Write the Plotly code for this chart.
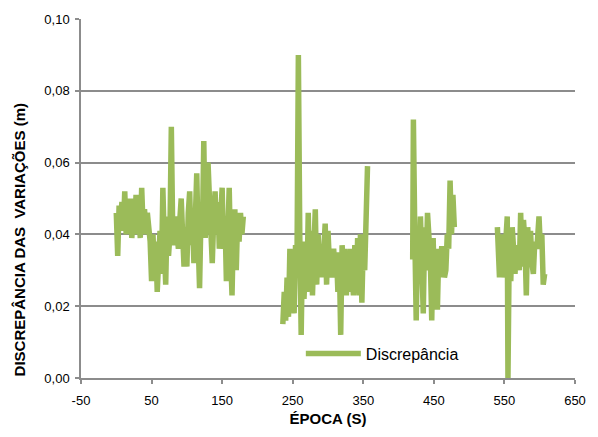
import plotly.graph_objects as go

# Segment 1
x1 = [0, 2, 4, 6, 8, 10, 12, 14, 16, 18, 20, 22, 24, 26, 28, 30, 32, 34, 36, 38, 40, 42, 44, 46, 48,
      50, 52, 54, 56, 58, 60, 62, 64, 66, 68, 70, 72, 74, 76, 78, 80, 82, 84, 86, 88, 90, 92, 94, 96, 98,
      100, 102, 104, 106, 108, 110, 112, 114, 116, 118, 120, 122, 124, 126, 128, 130, 132, 134, 136, 138,
      140, 142, 144, 146, 148, 150, 152, 154, 156, 158, 160, 162, 164, 166, 168, 170, 172, 174, 176, 178, 180]
y1 = [0.046, 0.034, 0.048, 0.044, 0.049, 0.041, 0.052, 0.040, 0.047, 0.042, 0.050, 0.039, 0.046, 0.040,
      0.051, 0.041, 0.045, 0.039, 0.053, 0.042, 0.047, 0.040, 0.046, 0.043, 0.038,
      0.027, 0.040, 0.030, 0.038, 0.024, 0.035, 0.041, 0.029, 0.053, 0.038, 0.026, 0.045, 0.034, 0.040,
      0.070, 0.040, 0.037, 0.045, 0.038, 0.036, 0.044, 0.050, 0.040, 0.031, 0.042,
      0.031, 0.046, 0.052, 0.037, 0.044, 0.032, 0.045, 0.057, 0.038, 0.025, 0.045, 0.040, 0.066, 0.039,
      0.047, 0.060, 0.050, 0.038, 0.032, 0.044,
      0.052, 0.040, 0.049, 0.036, 0.043, 0.053, 0.036, 0.045, 0.027, 0.041, 0.053, 0.034, 0.023, 0.042,
      0.047, 0.030, 0.045, 0.038, 0.046, 0.040, 0.045]

# Segment 2
x2 = [236, 238, 240, 242, 244, 246, 248, 250, 252, 254, 256, 258, 260, 262, 264, 266, 268, 270, 272,
      274, 276, 278, 280, 282, 284, 286, 288, 290, 292, 294, 296, 298, 300, 302, 304, 306, 308, 310,
      312, 314, 316, 318, 320, 322, 324, 326, 328, 330, 332, 334, 336, 338, 340, 342, 344, 346, 348,
      350, 352, 356]
y2 = [0.015, 0.024, 0.016, 0.028, 0.017, 0.036, 0.021, 0.033, 0.018, 0.037, 0.030, 0.090, 0.040, 0.012,
      0.038, 0.022, 0.033, 0.024, 0.046, 0.027, 0.041, 0.023, 0.036, 0.047, 0.026, 0.040, 0.031, 0.036,
      0.028, 0.035, 0.043, 0.026, 0.041, 0.032, 0.035, 0.028, 0.036, 0.030, 0.035, 0.024, 0.033, 0.012,
      0.037, 0.030, 0.036, 0.023, 0.035, 0.024, 0.036, 0.030, 0.023, 0.037, 0.024, 0.039, 0.023, 0.040,
      0.021, 0.038, 0.030, 0.059]

# Segment 3
x3 = [420, 421, 423, 425, 427, 429, 431, 433, 435, 437, 439, 441, 443, 445, 447, 449, 451, 453, 455,
      457, 459, 461, 463, 465, 467, 469, 471, 473, 475, 477, 479]
y3 = [0.033, 0.072, 0.040, 0.016, 0.038, 0.030, 0.045, 0.025, 0.018, 0.042, 0.030, 0.046, 0.040, 0.033,
      0.016, 0.039, 0.023, 0.035, 0.019, 0.036, 0.028, 0.036, 0.036, 0.028, 0.030, 0.040, 0.036, 0.055,
      0.040, 0.051, 0.042]

# Segment 4
x4 = [540, 541, 543, 546, 548, 551, 554, 555, 557, 559, 561, 563, 565, 567, 569, 571, 573, 575, 577,
      579, 581, 583, 585, 587, 589, 591, 593, 596, 599, 601, 603, 605, 607]
y4 = [0.042, 0.033, 0.028, 0.040, 0.028, 0.035, 0.045, 0.000, 0.040, 0.027, 0.042, 0.036, 0.029, 0.037,
      0.033, 0.030, 0.046, 0.031, 0.044, 0.038, 0.023, 0.042, 0.033, 0.041, 0.032, 0.029, 0.038, 0.036,
      0.045, 0.036, 0.040, 0.026, 0.029]

x_ticks = [-50, 50, 150, 250, 350, 450, 550, 650]
x_ticklabels = ["-50", "50", "150", "250", "350", "450", "550", "650"]
y_ticks = [0, 0.02, 0.04, 0.06, 0.08, 0.10]
y_ticklabels = ["0,00", "0,02", "0,04", "0,06", "0,08", "0,10"]

xs, ys = [], []
for sx, sy in [(x1, y1), (x2, y2), (x3, y3), (x4, y4)]:
    if xs:
        xs.append(None)
        ys.append(None)
    xs.extend(sx)
    ys.extend(sy)

GREEN = "#9BBB59"
GRID = "#8C8C8C"
FONT = "Liberation Sans"

fig = go.Figure()
fig.add_trace(go.Scatter(x=xs, y=ys, mode="lines", name="Discrepância",
                         line=dict(color=GREEN, width=5.5), connectgaps=False))

fig.update_layout(
    width=598, height=437,
    margin=dict(l=81, r=13, t=16, b=54),
    paper_bgcolor="white", plot_bgcolor="white",
    font=dict(family=FONT, size=13, color="#000000"),
    showlegend=True,
    legend=dict(x=0.445, y=0.068, xanchor="left", yanchor="middle",
                bgcolor="rgba(0,0,0,0)", font=dict(size=16, family=FONT),
                itemwidth=55),
    xaxis=dict(range=[-50, 650], tickvals=x_ticks, ticktext=x_ticklabels,
               showgrid=False, zeroline=False, showline=True, linecolor=GRID, linewidth=1.5,
               ticks="outside", ticklen=4, tickcolor=GRID, tickwidth=1.5,
               ticklabelstandoff=6,
               title=dict(text="<b>ÉPOCA (S)</b>", font=dict(size=15, family=FONT), standoff=6)),
    yaxis=dict(range=[0, 0.10], tickvals=y_ticks, ticktext=y_ticklabels,
               showgrid=True, gridcolor=GRID, gridwidth=1.5, zeroline=False,
               showline=True, linecolor=GRID, linewidth=1.5,
               ticks="outside", ticklen=4, tickcolor=GRID, tickwidth=1.5,
               ticklabelstandoff=3),
    annotations=[dict(text="<b>DISCREPÂNCIA DAS  VARIAÇÕES (m)</b>", textangle=-90,
                      xref="paper", yref="paper", x=-0.125, y=0.384,
                      xanchor="center", yanchor="middle", showarrow=False,
                      font=dict(size=15, family=FONT, color="#000000"))],
)

fig.write_html("out.html")
